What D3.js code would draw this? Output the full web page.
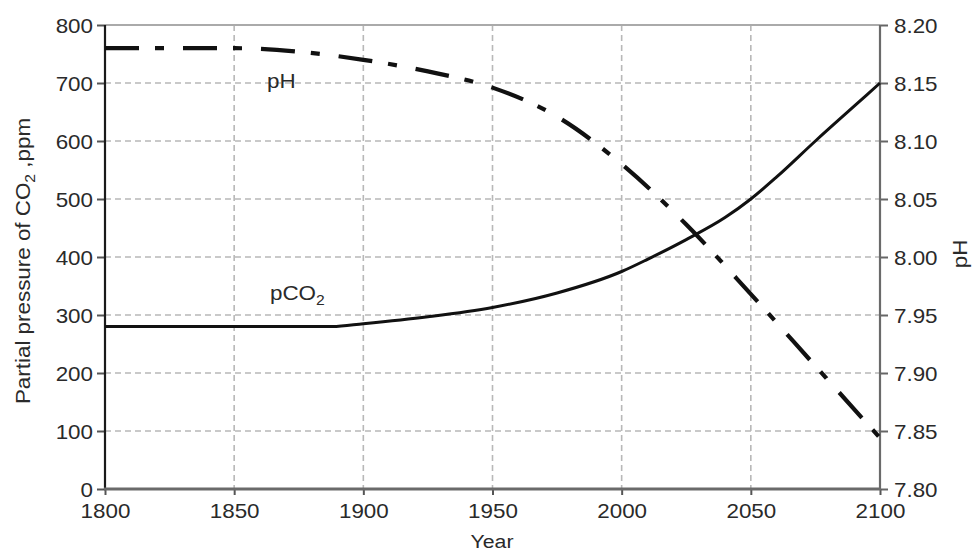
<!DOCTYPE html>
<html>
<head>
<meta charset="utf-8">
<script src="https://cdn.jsdelivr.net/npm/d3@7/dist/d3.min.js"></script>
<style>
  html, body { margin: 0; padding: 0; background: #fff; }
  svg text { font-family: "Liberation Sans", Arial, Helvetica, sans-serif; fill: #2a2a2a; }
</style>
</head>
<body>
<svg id="chart" width="973" height="553"></svg>
<script>
// ---- data ----
const years = [1800, 1825, 1850, 1875, 1888, 1900, 1925, 1950, 1975, 2000, 2010, 2025, 2040, 2050, 2060, 2075, 2090, 2100];
const pCO2  = [280, 280, 280, 280, 280, 285, 297, 313, 338, 375, 396, 430, 468, 500, 538, 600, 660, 700];

const phYears = [1800, 1825, 1850, 1875, 1900, 1925, 1950, 1975, 2000, 2025, 2050, 2075, 2100];
const phVals  = [8.18, 8.18, 8.18, 8.177, 8.170, 8.160, 8.146, 8.121, 8.080, 8.028, 7.968, 7.906, 7.844];

const xTicks = [1800, 1850, 1900, 1950, 2000, 2050, 2100];
const yLeftTicks = [0, 100, 200, 300, 400, 500, 600, 700, 800];
const yRightTicks = [7.80, 7.85, 7.90, 7.95, 8.00, 8.05, 8.10, 8.15, 8.20];

// ---- layout ----
const L = 105, R = 880, T = 25, B = 489;
const SX = 1.12; // horizontal text stretch
const svg = d3.select("#chart");

const x = d3.scaleLinear().domain([1800, 2100]).range([L, R]);
const yL = d3.scaleLinear().domain([0, 800]).range([B, T]);
const yR = d3.scaleLinear().domain([7.8, 8.2]).range([B, T]);

// grid
const grid = svg.append("g");
grid.selectAll("line.h").data(yLeftTicks.filter(d => d > 0 && d < 800)).join("line")
  .attr("x1", L).attr("x2", R).attr("y1", d => yL(d)).attr("y2", d => yL(d))
  .attr("stroke", "#b8b8b8").attr("stroke-width", 1.6).attr("stroke-dasharray", "6,4");
grid.selectAll("line.v").data(xTicks.filter(d => d > 1800 && d < 2100)).join("line")
  .attr("y1", T).attr("y2", B).attr("x1", d => x(d)).attr("x2", d => x(d))
  .attr("stroke", "#b8b8b8").attr("stroke-width", 1.6).attr("stroke-dasharray", "6,4");
// top border
svg.append("line").attr("x1", L).attr("x2", R).attr("y1", T).attr("y2", T)
  .attr("stroke", "#aaaaaa").attr("stroke-width", 2);

// axes
function styleAxis(g, color, w) {
  g.select(".domain").remove();
  g.selectAll(".tick line").attr("stroke", color).attr("stroke-width", w);
  g.selectAll(".tick text").attr("fill", "#2a2a2a").style("font-size", "20px");
}

const gLeft = svg.append("g").attr("transform", `translate(${L},0)`)
  .call(d3.axisLeft(yL).tickValues(yLeftTicks).tickSize(8).tickSizeOuter(0).tickFormat(d3.format("d")));
styleAxis(gLeft, "#555", 2);
gLeft.selectAll(".tick text").attr("x", 0).attr("dy", "0.36em")
  .attr("transform", `translate(-12,0) scale(${SX},1)`);

const gRight = svg.append("g").attr("transform", `translate(${R},0)`)
  .call(d3.axisRight(yR).tickValues(yRightTicks).tickSize(8).tickSizeOuter(0).tickFormat(d3.format(".2f")));
styleAxis(gRight, "#666", 2);
gRight.selectAll(".tick text").attr("x", 0).attr("dy", "0.36em")
  .attr("transform", `translate(14,0) scale(${SX},1)`);

const gBottom = svg.append("g").attr("transform", `translate(0,${B})`)
  .call(d3.axisBottom(x).tickValues(xTicks).tickSize(6).tickSizeOuter(0).tickFormat(d3.format("d")));
styleAxis(gBottom, "#555", 2);
gBottom.selectAll(".tick text").attr("y", 0).attr("dy", "0")
  .attr("transform", `translate(0,29) scale(${SX},1)`);

// axis lines
svg.append("line").attr("x1", L).attr("x2", L).attr("y1", T).attr("y2", B + 1)
  .attr("stroke", "#1a1a1a").attr("stroke-width", 2.2);
svg.append("line").attr("x1", R).attr("x2", R).attr("y1", T).attr("y2", B + 1)
  .attr("stroke", "#6a6a6a").attr("stroke-width", 2.2);
svg.append("line").attr("x1", L - 1).attr("x2", R + 1).attr("y1", B).attr("y2", B)
  .attr("stroke", "#6a6a6a").attr("stroke-width", 3);

// series
const lineCO2 = d3.line().x((d, i) => x(years[i])).y(d => yL(d)).curve(d3.curveMonotoneX);
svg.append("path").datum(pCO2).attr("d", lineCO2)
  .attr("fill", "none").attr("stroke", "#111").attr("stroke-width", 3);

const linePH = d3.line().x((d, i) => x(phYears[i])).y(d => yR(d)).curve(d3.curveMonotoneX);
svg.append("path").datum(phVals).attr("d", linePH)
  .attr("fill", "none").attr("stroke", "#111").attr("stroke-width", 4.2)
  .attr("stroke-dasharray", "34,16,9,19");

// series labels
svg.append("text").attr("transform", `translate(267,88) scale(${SX},1)`)
  .style("font-size", "20px").text("pH");
const t2 = svg.append("text").attr("transform", `translate(270,300) scale(${SX},1)`)
  .style("font-size", "20px");
t2.append("tspan").text("pCO");
t2.append("tspan").attr("dy", 5).style("font-size", "14px").text("2");

// axis titles
svg.append("text").attr("transform", `translate(492,548) scale(${SX},1)`)
  .attr("text-anchor", "middle").style("font-size", "19px").text("Year");

const yt = svg.append("text").attr("transform", `translate(30,261) rotate(-90) scale(${SX},1)`)
  .attr("text-anchor", "middle").style("font-size", "20px");
yt.append("tspan").text("Partial pressure of CO");
yt.append("tspan").attr("dy", 5).style("font-size", "14px").text("2");
yt.append("tspan").attr("dy", -5).text(" ,ppm");

svg.append("text").attr("transform", `translate(967,254) rotate(-90) scale(${SX},1)`)
  .attr("text-anchor", "middle").style("font-size", "20px").text("pH");
</script>
</body>
</html>
